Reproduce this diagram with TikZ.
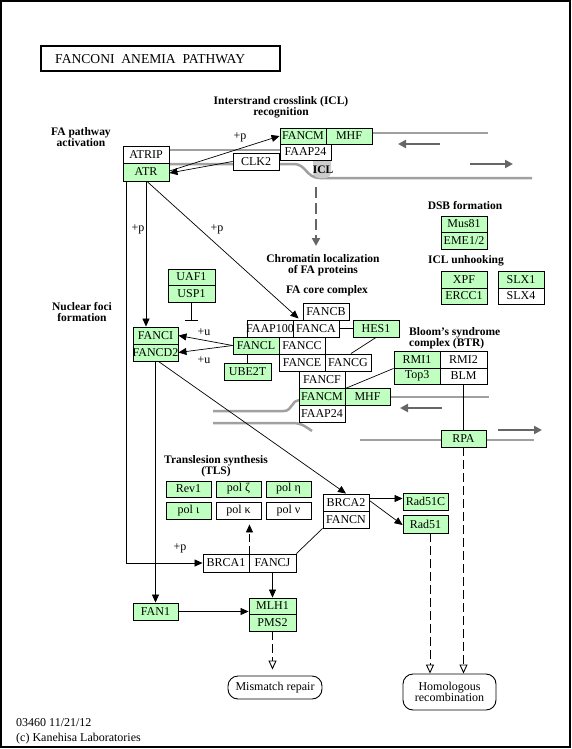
\documentclass[tikz,border=0pt]{standalone}
\usepackage{fontspec}
\setmainfont{Liberation Serif}
\usetikzlibrary{arrows.meta,calc}
\definecolor{kg}{HTML}{BFFFBF}
\definecolor{dnac}{HTML}{A0A0A0}
\definecolor{dnaarrc}{HTML}{666666}
\definecolor{blobc}{HTML}{CCCCCC}
\newcommand\gb[7]{\node[#1, minimum width={#5-#3}, minimum height={#6-#4}] (#2) at ({(#3+#5)/2},{(#4+#6)/2}) {\makebox[0pt]{#7}};}
\begin{document}
\begin{tikzpicture}[x=1pt,y=-1pt,
 gene/.style={draw=black, line width=0.9pt, inner sep=0pt, font=\fontsize{12}{12}\selectfont},
 gr/.style={gene, fill=kg}, wh/.style={gene, fill=white},
 lbl/.style={font=\fontsize{11.5}{11}\selectfont\bfseries, align=center, inner sep=0pt},
 txt/.style={font=\fontsize{12}{12}\selectfont, inner sep=0pt},
 rel/.style={line width=0.7pt, -{Triangle[length=8pt,width=7pt]}},
 plainl/.style={line width=0.7pt},
 dnal/.style={draw=dnac, line width=2.5pt},
 dnaarr/.style={draw=dnaarrc, line width=2.5pt, -{Triangle[length=8pt,width=8pt]}},
 dsh/.style={line width=0.9pt, dash pattern=on 9pt off 4pt, -{Triangle[open,length=9pt,width=8pt]}},
 mapbox/.style={draw, line width=0.9pt, rounded corners=10pt, font=\fontsize{12}{12}\selectfont, align=center, inner sep=0pt}
]
\useasboundingbox (0,0) rectangle (572,749);
\draw[line width=1.5pt] (1,1) rectangle (570,747);

% title
\node[draw, line width=2pt, minimum width=239, minimum height=25, inner sep=0pt] (titlebox) at (160.5,58.5) {};
\node[font=\fontsize{13.6}{13.6}\selectfont, anchor=west, inner sep=0pt] (title) at (55,59) {FANCONI\ \ ANEMIA\ \ PATHWAY};

% ---- DNA strands top
\draw[dnal] (170,150) -- (284,150);
\draw[dnal] (372,133) -- (488,133);
\draw[dnal] (170,164) -- (294,164) .. controls (306,164) and (306,178) .. (320,178) -- (532,178);
\draw[dnaarr] (440,144) -- (398,144);
\draw[dnaarr] (470,164) -- (513,164);
\fill[blobc, rounded corners=6pt] (313,140) rectangle (331,178);
\coordinate (iclsrc) at (316,187);
\coordinate (icldst) at (316,246);
\draw[draw=dnaarrc, line width=2.5pt, dash pattern=on 11pt off 5pt, -{Triangle[length=8pt,width=8pt]}] (iclsrc) -- (icldst);

% ---- DNA strands middle
\draw[dnal] (213,411) -- (284,411) .. controls (292,411) and (292,400) .. (299,400);
\draw[dnal] (390,397) -- (489,397);
\draw[dnal] (213,423) -- (292,423) .. controls (302,423) and (306,427) .. (312,431);
\draw[dnal] (360,440) -- (534,440);
\draw[dnaarr] (442,408) -- (400,408);
\draw[dnaarr] (498,430) -- (542,430);

% ---- genes top
\gb{gr}{fancm1}{280}{128}{326}{144}{FANCM}
\gb{gr}{mhf1}{326}{128}{372}{144}{MHF}
\gb{wh}{faap24a}{280}{144}{331}{160}{FAAP24}
\gb{wh}{atrip}{123}{146}{169}{163}{ATRIP}
\gb{gr}{atr}{123}{163}{169}{181}{ATR}
\gb{wh}{clk2}{233}{153}{279}{170}{CLK2}

\gb{gr}{mus81}{441}{216}{487}{232}{Mus81}
\gb{gr}{eme}{441}{232}{487}{249}{EME1/2}
\gb{gr}{xpf}{441}{271}{487}{288}{XPF}
\gb{gr}{ercc1}{441}{288}{487}{304}{ERCC1}
\gb{gr}{slx1}{498}{271}{544}{288}{SLX1}
\gb{wh}{slx4}{498}{288}{544}{304}{SLX4}

% FA core
\gb{wh}{fancb}{303}{303}{349}{320}{FANCB}
\gb{wh}{faap100}{247}{320}{293}{337}{FAAP100}
\gb{wh}{fanca}{293}{320}{339}{337}{FANCA}
\gb{gr}{hes1}{353}{320}{399}{337}{HES1}
\gb{gr}{fancl}{233}{337}{279}{354}{FANCL}
\gb{wh}{fancc}{279}{337}{325}{354}{FANCC}
\gb{wh}{fance}{279}{354}{325}{371}{FANCE}
\gb{wh}{fancg}{325}{354}{371}{371}{FANCG}
\gb{wh}{fancf}{299}{371}{345}{388}{FANCF}
\gb{gr}{fancm2}{299}{388}{345}{405}{FANCM}
\gb{gr}{mhf2}{345}{388}{390}{405}{MHF}
\gb{wh}{faap24b}{299}{405}{345}{422}{FAAP24}
\gb{gr}{ube2t}{224}{363}{271}{380}{UBE2T}
\gb{gr}{uaf1}{168}{269}{215}{285}{UAF1}
\gb{gr}{usp1}{168}{285}{215}{302}{USP1}
\gb{gr}{fanci}{133}{327}{178}{344}{FANCI}
\gb{gr}{fancd2}{133}{344}{178}{361}{FANCD2}

% BTR
\gb{gr}{rmi1}{394}{351}{440}{368}{RMI1}
\gb{wh}{rmi2}{440}{351}{487}{368}{RMI2}
\gb{gr}{top3}{394}{368}{440}{384}{Top3}
\gb{wh}{blm}{440}{368}{487}{384}{BLM}
\gb{gr}{rpa}{441}{430}{486}{447}{RPA}

% TLS
\gb{gr}{rev1}{166}{481}{211}{497}{Rev1}
\gb{gr}{polz}{216}{481}{261}{497}{pol ζ}
\gb{gr}{polh}{266}{481}{311}{497}{pol η}
\gb{gr}{poli}{166}{502}{211}{519}{pol ι}
\gb{wh}{polk}{216}{502}{261}{519}{pol κ}
\gb{wh}{poln}{266}{502}{311}{519}{pol ν}

\gb{wh}{brca2}{323}{494}{369}{511}{BRCA2}
\gb{wh}{fancn}{323}{511}{369}{528}{FANCN}
\gb{gr}{rad51c}{403}{493}{448}{510}{Rad51C}
\gb{gr}{rad51}{403}{515}{448}{533}{Rad51}
\gb{wh}{brca1}{203}{554}{249}{572}{BRCA1}
\gb{wh}{fancj}{249}{554}{296}{572}{FANCJ}
\gb{gr}{fan1}{133}{603}{178}{620}{FAN1}
\gb{gr}{mlh1}{249}{598}{296}{614}{MLH1}
\gb{gr}{pms2}{249}{614}{296}{631}{PMS2}

% map boxes
\node[mapbox, minimum width=94, minimum height=23] (mmr) at (275,687.5) {Mismatch repair};
\node[mapbox, minimum width=93, minimum height=36, font=\fontsize{12}{11.5}\selectfont] (hr) at (449.5,692) {Homologous\\recombination};

% ---- connectors
\draw[rel] ([yshift=1pt]atr.east) -- (fancm1.west);
\draw[rel] (clk2.west) -- ([yshift=-1pt]atr.east);
\draw[rel] ([xshift=1pt]atr.south) -- ($(fancb.south west)+(-4,-2)$);
\draw[rel] (atr.south) -- (atr.south |- fanci.north);
\draw[rel] ([xshift=4pt]atr.south west) |- (brca1.west);
\draw[rel] (fancl.west) -- (fanci.east);
\draw[rel] (fancl.west) -- (fancd2.east);
\coordinate (inh) at (191.5,321);
\draw[plainl, -{Bar[width=13pt]}] (usp1.south) -- (inh);
\draw[plainl] (fanca.east) -- (hes1.west);
\draw[plainl] (hes1.south) -- ([xshift=3pt]fancg.north);
\draw[plainl] (ube2t.north) -- (ube2t.north |- fancl.south);
\draw[plainl] (rmi1.south west) -- (fancf.south east);
\draw[plainl] (blm.south) -- (rpa.north);
\draw[rel] (fancd2.south) -- (fan1.north);
\draw[rel] ([xshift=3pt]fancd2.south) -- (brca2.north);
\draw[plainl] (fancj.north east) -- (fancn.south west);
\draw[line width=0.9pt, dash pattern=on 8pt off 4pt, -{Triangle[length=8pt,width=7pt]}, shorten >=5pt] (brca1.north east) -- (brca1.north east |- polk.south);
\draw[rel] (fancj.south) -- (fancj.south |- mlh1.north);
\draw[rel] (fan1.east) -- (fan1.east -| mlh1.west);
\draw[rel] ([yshift=4pt]brca2.east) -- ([yshift=4pt]brca2.east -| rad51c.west);
\draw[rel] ([yshift=2pt]brca2.east) -- ([yshift=-1pt]rad51.west);
\draw[dsh, shorten >=6pt] (pms2.south) -- (pms2.south |- mmr.north);
\draw[dsh] ([xshift=4.5pt]rad51.south) -- ([xshift=4.5pt]rad51.south |- hr.north);
\draw[dsh] (rpa.south) -- (rpa.south |- hr.north);

% ---- labels
\node[lbl] (l_icl) at (281,107.5) {Interstrand crosslink (ICL)\\recognition};
\node[lbl] (l_fa) at (81,137.5) {FA pathway\\activation};
\node[lbl] (l_nf) at (82,312.5) {Nuclear foci\\formation};
\node[lbl] (l_chrom) at (323,265.5) {Chromatin localization\\of FA proteins};
\node[lbl] (l_core) at (327,291) {FA core complex};
\node[lbl] (l_dsb) at (465,206) {DSB formation};
\node[lbl] (l_unh) at (466,261) {ICL unhooking};
\node[lbl, align=left, anchor=west] (l_btr) at (409,338) {Bloom's syndrome\\complex (BTR)};
\node[lbl] (l_iclx) at (323,170) {ICL};
\node[lbl] (l_tls) at (216,466.5) {Translesion synthesis\\(TLS)};

\node[txt] (p1) at (240,137) {+p};
\node[txt] (p2) at (138,229) {+p};
\node[txt] (p3) at (217,229) {+p};
\node[txt] (p4) at (180,548) {+p};
\node[txt] (u1) at (204,332) {+u};
\node[txt] (u2) at (204,360) {+u};

\node[txt, anchor=west] (foot1) at (16,723) {03460 11/21/12};
\node[txt, anchor=west] (foot2) at (16,739) {(c) Kanehisa Laboratories};
\end{tikzpicture}
\end{document}
